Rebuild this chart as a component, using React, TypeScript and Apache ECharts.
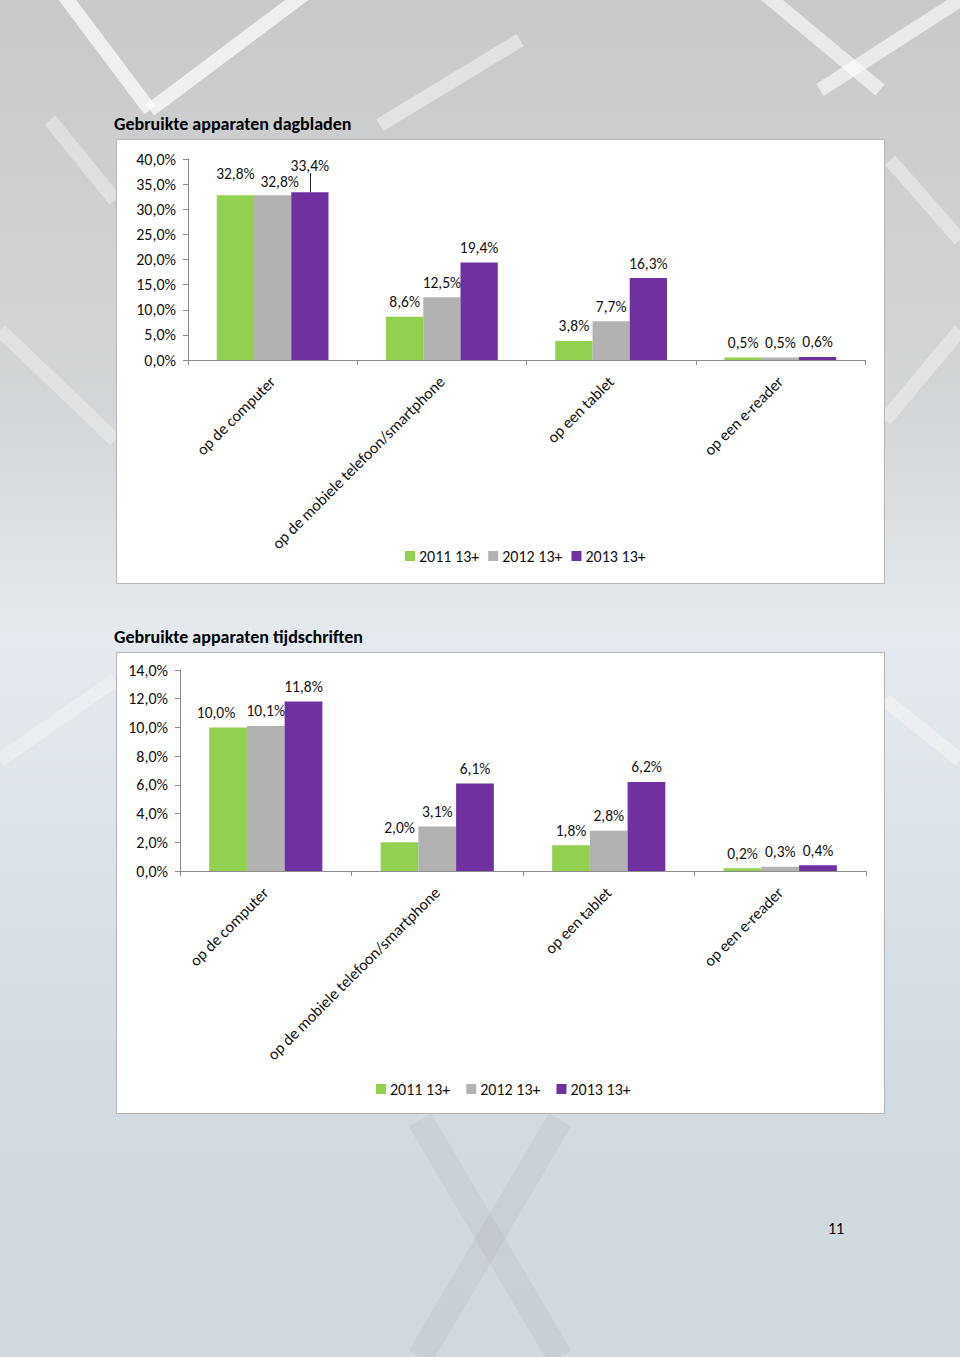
import React, { useEffect, useRef } from "react";
import * as echarts from "echarts";

const categories = [
  "op de computer",
  "op de mobiele telefoon/smartphone",
  "op een tablet",
  "op een e-reader",
];
const seriesNames = ["2011 13+", "2012 13+", "2013 13+"];
const colors = ["#92D050", "#B2B2B2", "#7030A0"];

const dagbladen2011 = [32.8, 8.6, 3.8, 0.5];
const dagbladen2012 = [32.8, 12.5, 7.7, 0.5];
const dagbladen2013 = [33.4, 19.4, 16.3, 0.6];

const tijdschriften2011 = [10.0, 2.0, 1.8, 0.2];
const tijdschriften2012 = [10.1, 3.1, 2.8, 0.3];
const tijdschriften2013 = [11.8, 6.1, 6.2, 0.4];

const title1 = "Gebruikte apparaten dagbladen";
const title2 = "Gebruikte apparaten tijdschriften";
const pageNumber = "11";

const FONT = "Carlito, Lato, 'Liberation Sans', sans-serif";

const pct = (v: number) => v.toFixed(1).replace(".", ",") + "%";

// label nudges (Excel-style manual placement)
const labelOffsets: Record<string, [number, number]> = {
  "0-0-0": [0, -7],
  "0-1-0": [7, 1],
  "0-2-0": [0, -12],
  "1-0-0": [-12, 0],
};

function makeSeries(
  values: number[],
  name: string,
  colorIdx: number,
  axisIdx: number
) {
  return {
    type: "bar",
    name,
    xAxisIndex: axisIdx,
    yAxisIndex: axisIdx,
    barGap: "0%",
    barCategoryGap: "34%",
    itemStyle: { color: colors[colorIdx] },
    label: {
      show: true,
      position: "top",
      distance: 7,
      color: "#111",
      fontSize: 15.5,
      fontFamily: FONT,
      formatter: (p: any) => pct(p.value),
    },
    data: values.map((v, i) => {
      const key = `${axisIdx}-${colorIdx}-${i}`;
      const off = labelOffsets[key];
      if (!off) return v;
      return { value: v, label: { offset: off } };
    }),
  };
}

export default function App() {
  const ref = useRef<HTMLDivElement>(null);
  useEffect(() => {
    if (!ref.current) return;
    const chart = echarts.init(ref.current, null, { renderer: "svg" });

    const axisLineStyle = { color: "#8c8c8c", width: 1 };

    const xAxisBase = {
      type: "category",
      data: categories,
      axisLine: { show: true, lineStyle: axisLineStyle },
      axisTick: { show: true, length: 5, lineStyle: axisLineStyle },
      axisLabel: {
        interval: 0,
        rotate: 45,
        margin: 19,
        fontSize: 16,
        color: "#111",
        fontFamily: FONT,
      },
    };
    const yAxisBase = {
      type: "value",
      min: 0,
      axisLine: { show: true, lineStyle: axisLineStyle },
      axisTick: { show: true, length: 5, lineStyle: axisLineStyle },
      splitLine: { show: false },
      axisLabel: {
        fontSize: 16,
        color: "#111",
        fontFamily: FONT,
        margin: 12,
        formatter: (v: number) => pct(v),
      },
    };

    const bgStripes: any[] = [
      [[60, -10], [150, 110], 0.7],
      [[150, 110], [310, -10], 0.7],
      [[50, 120], [115, 200], 0.35],
      [[380, 125], [520, 40], 0.45],
      [[760, -10], [880, 90], 0.6],
      [[820, 90], [960, 0], 0.6],
      [[890, 160], [960, 240], 0.4],
      [[885, 420], [960, 330], 0.35],
      [[885, 700], [960, 760], 0.35],
      [[0, 330], [115, 440], 0.3],
      [[0, 760], [115, 680], 0.3],
    ];

    const graphic: any[] = [
      {
        type: "rect",
        z: -20,
        shape: { x: 0, y: 0, width: 960, height: 1357 },
        style: {
          fill: new echarts.graphic.LinearGradient(0, 0, 0, 1, [
            { offset: 0, color: "#c9c9c9" },
            { offset: 0.3, color: "#d3d6d8" },
            { offset: 0.47, color: "#e4eaef" },
            { offset: 0.8, color: "#d2dbe2" },
            { offset: 1, color: "#d0d9e0" },
          ]),
        },
        silent: true,
      },
      ...bgStripes.map((s) => ({
        type: "line",
        z: -19,
        shape: { x1: s[0][0], y1: s[0][1], x2: s[1][0], y2: s[1][1] },
        style: { stroke: `rgba(255,255,255,${s[2]})`, lineWidth: 14 },
        silent: true,
      })),
      {
        type: "line",
        z: -19,
        shape: { x1: 420, y1: 1120, x2: 560, y2: 1357 },
        style: { stroke: "rgba(170,170,175,0.2)", lineWidth: 26 },
        silent: true,
      },
      {
        type: "line",
        z: -19,
        shape: { x1: 560, y1: 1120, x2: 420, y2: 1357 },
        style: { stroke: "rgba(170,170,175,0.2)", lineWidth: 26 },
        silent: true,
      },
      {
        type: "rect",
        z: -10,
        shape: { x: 116.5, y: 139.5, width: 768, height: 444 },
        style: { fill: "#ffffff", stroke: "#b5b5b5", lineWidth: 1 },
        silent: true,
      },
      {
        type: "rect",
        z: -10,
        shape: { x: 116.5, y: 652.5, width: 768, height: 461 },
        style: { fill: "#ffffff", stroke: "#b5b5b5", lineWidth: 1 },
        silent: true,
      },
      {
        type: "text",
        z: 5,
        left: 114,
        top: 115,
        style: {
          text: title1,
          fontSize: 18,
          fontWeight: "bold",
          fill: "#000",
          fontFamily: FONT,
        },
      },
      {
        type: "text",
        z: 5,
        left: 114,
        top: 628,
        style: {
          text: title2,
          fontSize: 18,
          fontWeight: "bold",
          fill: "#000",
          fontFamily: FONT,
        },
      },
      {
        type: "text",
        z: 5,
        left: 828,
        top: 1220,
        style: {
          text: pageNumber,
          fontSize: 16,
          fill: "#000",
          fontFamily: FONT,
        },
      },
    ];

    const legendBase = {
      data: seriesNames,
      orient: "horizontal",
      icon: "rect",
      itemWidth: 10,
      itemHeight: 10,
      itemGap: 9,
      textStyle: { fontSize: 16, color: "#111", fontFamily: FONT, padding: [0, 0, 0, -1] },
    };

    chart.setOption({
      animation: false,
      backgroundColor: "transparent",
      graphic,
      legend: [
        { ...legendBase, left: 400, top: 543 },
        { ...legendBase, left: 371, top: 1076, itemGap: 16 },
      ],
      grid: [
        { left: 188, top: 159, width: 677, height: 201 },
        { left: 180, top: 670, width: 686, height: 201 },
      ],
      xAxis: [
        { ...xAxisBase, gridIndex: 0 },
        { ...xAxisBase, gridIndex: 1 },
      ],
      yAxis: [
        { ...yAxisBase, gridIndex: 0, max: 40, interval: 5 },
        { ...yAxisBase, gridIndex: 1, max: 14, interval: 2 },
      ],
      series: [
        makeSeries(dagbladen2011, seriesNames[0], 0, 0),
        makeSeries(dagbladen2012, seriesNames[1], 1, 0),
        makeSeries(dagbladen2013, seriesNames[2], 2, 0),
        makeSeries(tijdschriften2011, seriesNames[0], 0, 1),
        makeSeries(tijdschriften2012, seriesNames[1], 1, 1),
        makeSeries(tijdschriften2013, seriesNames[2], 2, 1),
      ],
    });

    // leader line for the displaced "33,4%" label, placed from the bar's own layout
    try {
      const data = (chart as any).getModel().getSeriesByIndex(2).getData();
      const lay = data.getItemLayout(0);
      if (lay) {
        const cx = Math.round(lay.x + lay.width / 2) + 0.5;
        const topY = Math.min(lay.y, lay.y + lay.height);
        chart.setOption({
          graphic: {
            elements: [
              {
                id: "leader",
                type: "line",
                z: 10,
                shape: { x1: cx, y1: topY - 19, x2: cx, y2: topY },
                style: { stroke: "#222", lineWidth: 1 },
                silent: true,
              },
            ],
          },
        });
      }
    } catch (e) {
      // ignore
    }

    return () => chart.dispose();
  }, []);

  return (
    <div
      ref={ref}
      style={{ position: "absolute", left: 0, top: 0, width: 960, height: 1357 }}
    />
  );
}
